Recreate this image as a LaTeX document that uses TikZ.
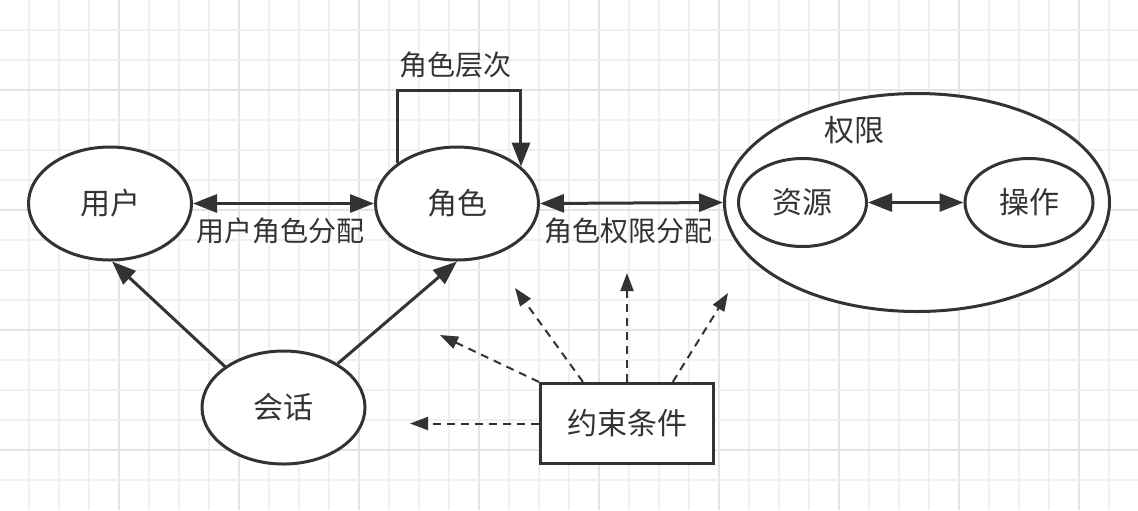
\documentclass[tikz,border=0pt]{standalone}
\usepackage{fontspec}
\setmainfont{Noto Sans CJK SC}
\usetikzlibrary{arrows.meta,shapes.geometric,calc}
\definecolor{ink}{HTML}{333333}
\definecolor{gridminor}{HTML}{F0F0F0}
\definecolor{gridmajor}{HTML}{E4E4E4}
\begin{document}
\begin{tikzpicture}[x=0.5pt,y=-0.5pt,
  ell/.style={ellipse,draw=ink,line width=1.5pt,fill=white,inner sep=0pt,text=ink,
    font=\fontsize{15pt}{18pt}\selectfont},
  boxnode/.style={rectangle,draw=ink,line width=1.6pt,fill=white,inner sep=0pt,text=ink,
    minimum width=86.5pt,minimum height=40pt,font=\fontsize{15pt}{18pt}\selectfont},
  lab/.style={text=ink,inner sep=0pt,font=\fontsize{14pt}{17pt}\selectfont},
  bigtip/.tip={Triangle[length=12pt,width=9pt]},
  smalltip/.tip={Triangle[length=9pt,width=6.5pt]},
  solidarrow/.style={draw=ink,line width=1.5pt,-bigtip},
  dbl/.style={draw=ink,line width=1.5pt,bigtip-bigtip},
  dasharrow/.style={draw=ink,line width=1pt,dash pattern=on 4pt off 3pt,-smalltip}]
\useasboundingbox (0,0) rectangle (1138,510);
\fill[white] (0,0) rectangle (1138,510);
% grid
\foreach \k in {1,...,38}{
  \pgfmathtruncatemacro{\m}{mod(\k,4)}
  \ifnum\m=0
    \draw[gridmajor,line width=0.8pt] ({-1+30*\k},0) -- ({-1+30*\k},510);
  \else
    \draw[gridminor,line width=0.7pt] ({-1+30*\k},0) -- ({-1+30*\k},510);
  \fi}
\foreach \k in {1,...,16}{
  \pgfmathtruncatemacro{\m}{mod(\k,4)}
  \ifnum\m=3
    \draw[gridmajor,line width=0.8pt] (0,{30*\k}) -- (1138,{30*\k});
  \else
    \draw[gridminor,line width=0.7pt] (0,{30*\k}) -- (1138,{30*\k});
  \fi}

% nodes
\node[ell,minimum width=81.5pt,minimum height=56.5pt] (u) at (110,203.5) {用户};
\node[ell,minimum width=81.5pt,minimum height=56.5pt] (r) at (457,203.5) {角色};
\node[ell,minimum width=81.5pt,minimum height=56.5pt] (s) at (283.5,407.5) {会话};
\node[ell,minimum width=192.5pt,minimum height=109pt] (perm) at (917,202.5) {};
\node[lab,font=\fontsize{15pt}{18pt}\selectfont] (permlab) at (854,130) {权限};
\node[ell,minimum width=64pt,minimum height=44pt] (res) at (802.5,202.5) {资源};
\node[ell,minimum width=64pt,minimum height=44pt] (op) at (1029,202.5) {操作};
\node[boxnode] (c) at (627,423.5) {约束条件};

% labels
\node[lab] (l1) at (280,231) {用户角色分配};
\node[lab] (l2) at (628,231) {角色权限分配};
\node[lab] (l3) at (455,65) {角色层次};

% connectors
\draw[dbl] (u.east) -- (r.west);
\draw[dbl] (r.east) -- (perm.west);
\draw[dbl] (res.east) -- (op.west);
\draw[solidarrow] (s.145) -- (u.-88);
\draw[solidarrow] (s.39) -- (r.south);
\coordinate (looptop) at (459,90);
\draw[solidarrow,line join=miter] (r.146) |- (looptop) -| (r.30);

% dashed constraint arrows
\coordinate (d1) at (410,423.5);
\coordinate (d2) at (440,335);
\coordinate (d3) at (515,288);
\coordinate (d4) at (627,273);
\coordinate (d5) at (728,293);
\draw[dasharrow] (c.west) -- (d1);
\draw[dasharrow] (c.north west) -- (d2);
\draw[dasharrow] ($(c.north west)!0.25!(c.north east)$) -- (d3);
\draw[dasharrow] (c.north) -- (d4);
\draw[dasharrow] ($(c.north west)!0.76!(c.north east)$) -- (d5);
\end{tikzpicture}
\end{document}
